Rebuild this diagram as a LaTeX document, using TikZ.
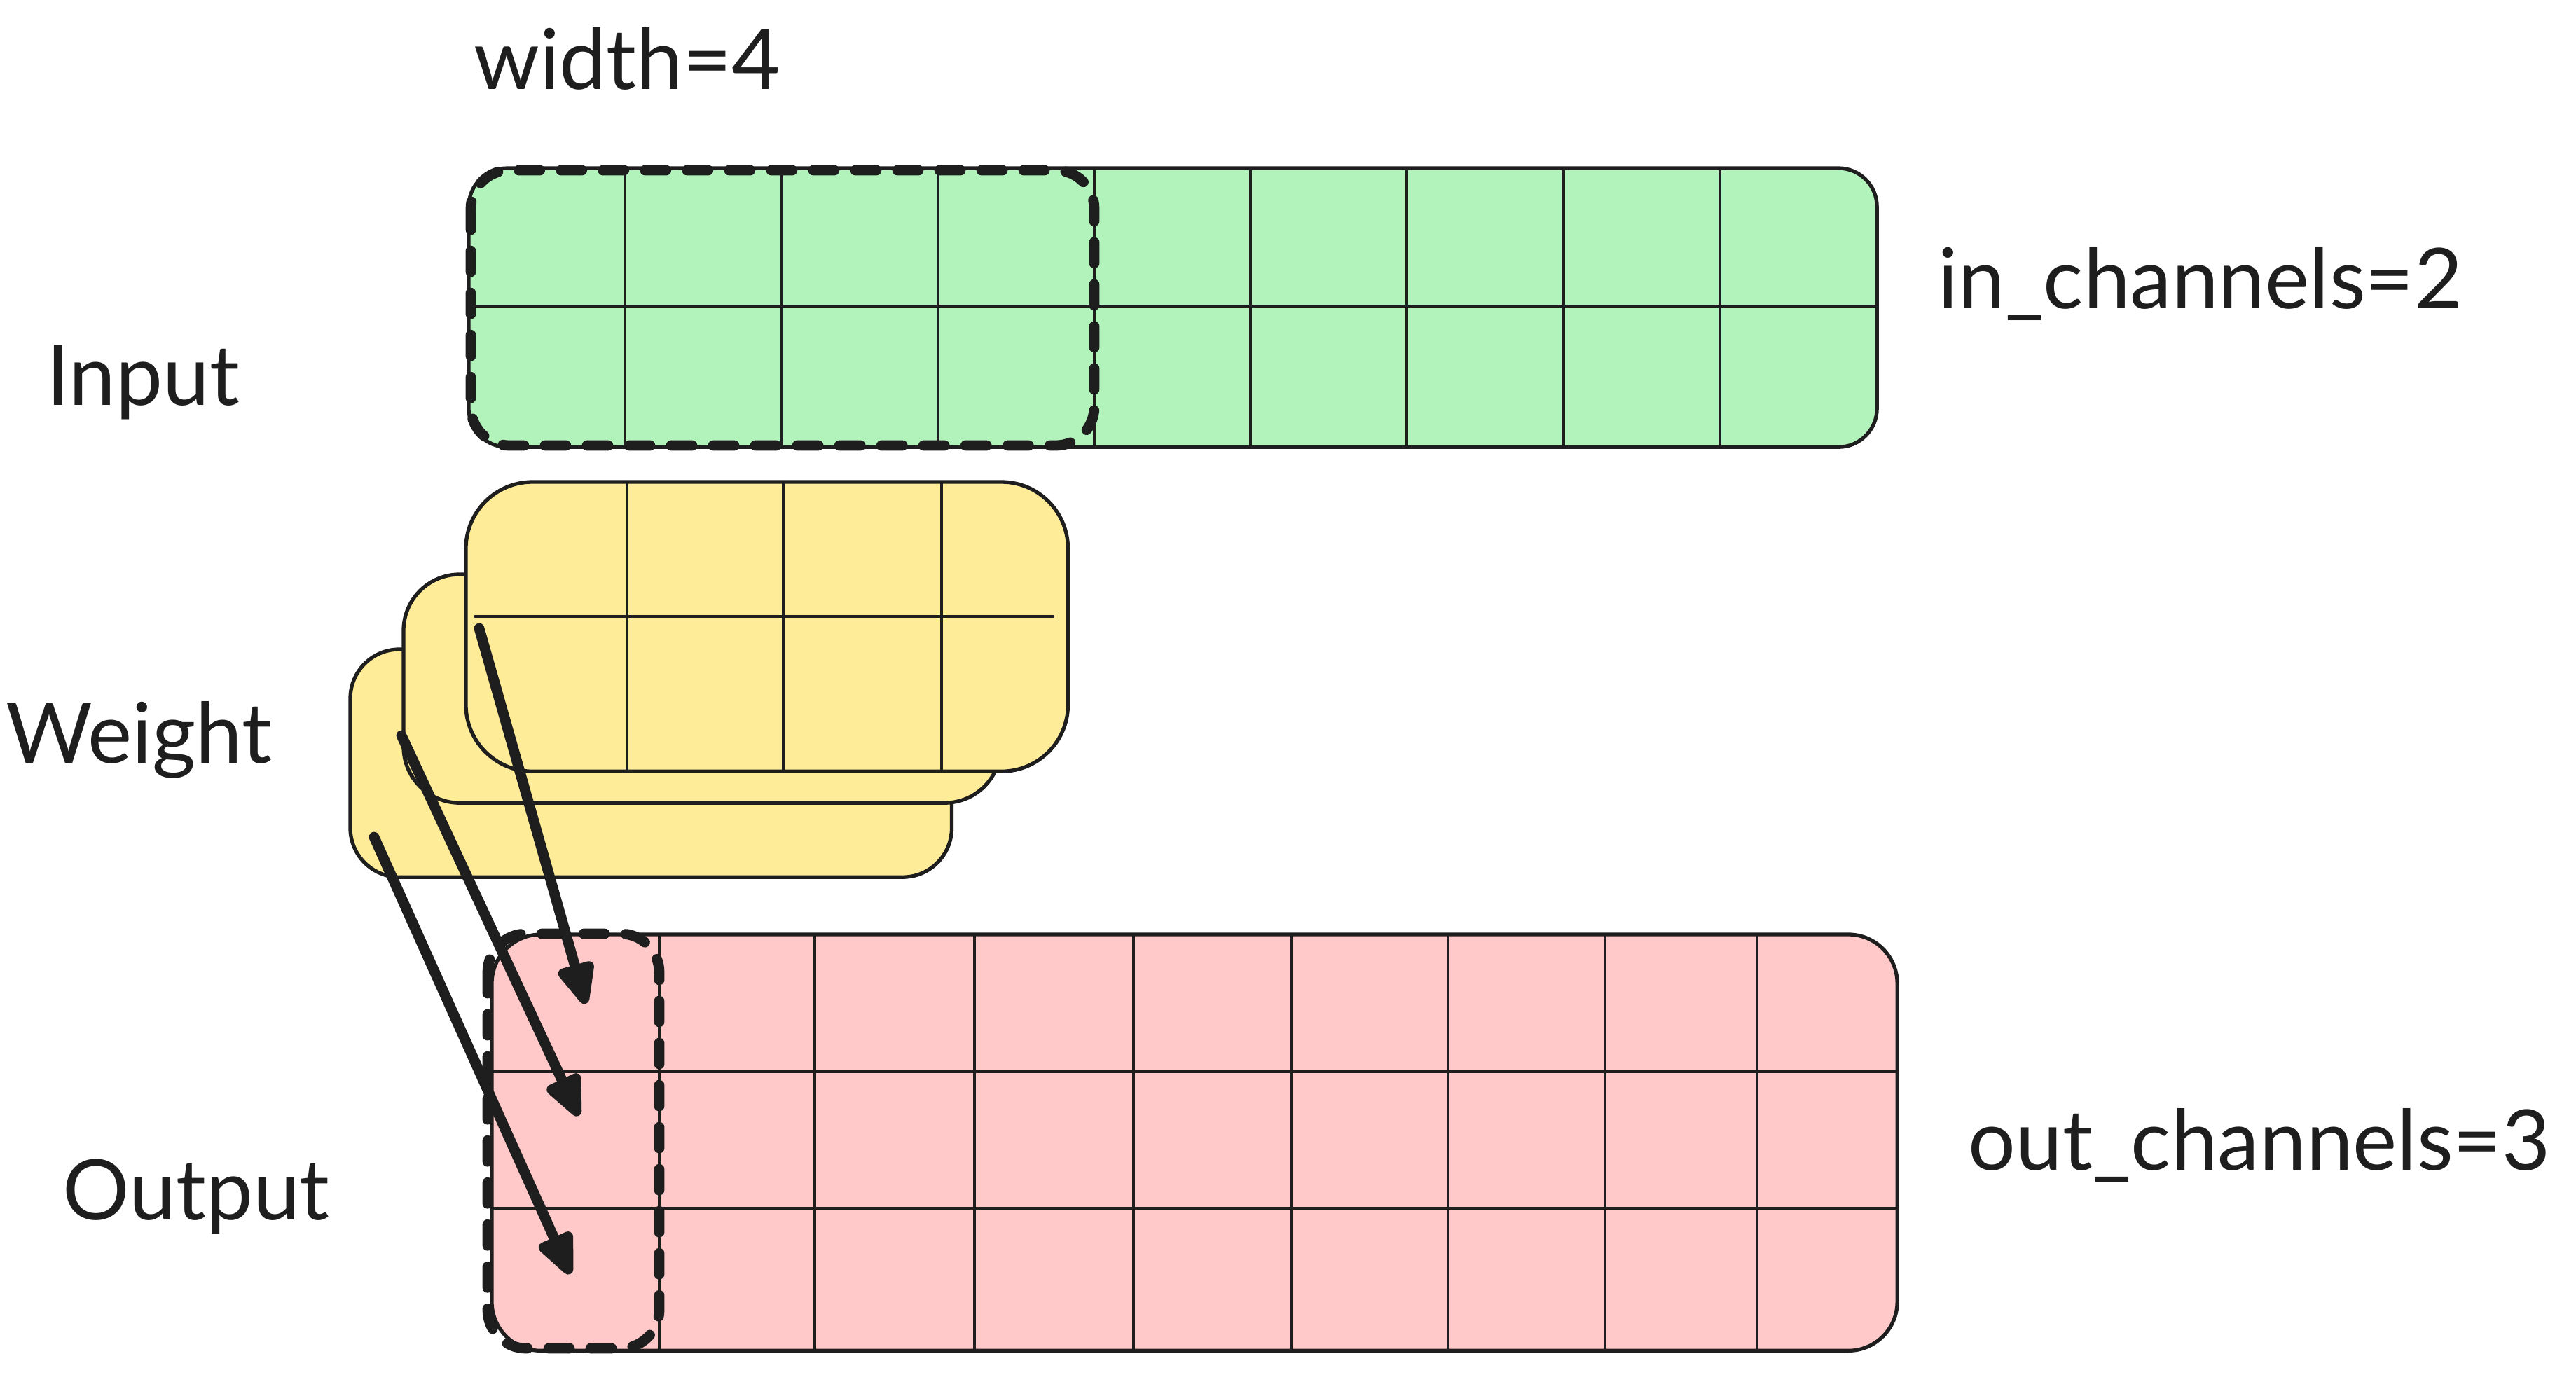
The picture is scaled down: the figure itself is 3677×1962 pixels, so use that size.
\documentclass[tikz,border=0pt]{standalone}
\usepackage{fontspec}
\setmainfont{Lato}
\usetikzlibrary{arrows.meta}
\definecolor{ink}{HTML}{1E1E1E}
\definecolor{ingreen}{HTML}{B2F2BB}
\definecolor{wyellow}{HTML}{FFEC99}
\definecolor{outpink}{HTML}{FFC9C9}
\begin{document}
\begin{tikzpicture}[x=0.01cm,y=-0.01cm,line cap=round,line join=round,
	tensor/.style={rectangle,draw=ink,line width=1.5pt,inner sep=0pt,outer sep=0pt,anchor=north west},
	gridline/.style={draw=ink,line width=1.2pt},
	window/.style={draw=ink,line width=4.2pt,dash pattern=on 0.3cm off 0.3cm,rounded corners=0.55cm},
	tag/.style={font=\fontsize{34}{40}\selectfont,text=ink,inner sep=0pt,anchor=base}]
	\useasboundingbox (0,0) rectangle (3677,1962);
	\node (in) at (669,240) [tensor,fill=ingreen,rounded corners=0.55cm,minimum width=20.09cm,minimum height=3.98cm] {};
	\foreach \k in {1,...,8}
		\draw [gridline] ({669+223.2*\k},240) -- ++(0,398);
	\draw [gridline] (669,437) -- (2678,437);
	\draw [window] (672,243) rectangle (1562,636);
	\node (w3) at (500,927) [tensor,fill=wyellow,rounded corners=0.7cm,minimum width=8.58cm,minimum height=3.25cm] {};
	\node (w2) at (576,820) [tensor,fill=wyellow,rounded corners=0.8cm,minimum width=8.52cm,minimum height=3.26cm] {};
	\node (w1) at (665,688) [tensor,fill=wyellow,rounded corners=0.95cm,minimum width=8.59cm,minimum height=4.13cm] {};
	\foreach \x in {895,1118,1344}
		\draw [gridline] (\x,688) -- (\x,1101);
	\draw [gridline] (678,880) -- (1503,880);
	\node (out) at (702,1334) [tensor,fill=outpink,rounded corners=0.7cm,minimum width=20.05cm,minimum height=5.94cm] {};
	\foreach \x in {941,1163,1391,1618,1843,2067,2291,2508}
		\draw [gridline] (\x,1334) -- (\x,1928);
	\draw [gridline] (702,1530) -- (2707,1530);
	\draw [gridline] (702,1725) -- (2707,1725);
	\draw [window] (696,1333) rectangle (941,1925);
	\coordinate (s1) at (684,897);
	\coordinate (s2) at (573,1050);
	\coordinate (s3) at (534,1195);
	\coordinate (e1) at (836,1433);
	\coordinate (e2) at (826,1593);
	\coordinate (e3) at (814,1819);
	\draw [ink,line width=4.2pt,-{Triangle[round,length=7mm,width=5.6mm]}] (s1) -- (e1);
	\draw [ink,line width=4.2pt,-{Triangle[round,length=7mm,width=5.6mm]}] (s2) -- (e2);
	\draw [ink,line width=4.2pt,-{Triangle[round,length=7mm,width=5.6mm]}] (s3) -- (e3);
	\node (wd) at (895,127) [tag] {width=4};
	\node (inl) at (204,578) [tag] {Input};
	\node (wl) at (198,1089) [tag] {Weight};
	\node (outl) at (280,1741) [tag] {Output};
	\node (inc) at (3141,440) [tag] {in\_channels=2};
	\node (outc) at (3225,1670) [tag] {out\_channels=3};
\end{tikzpicture}
\end{document}
